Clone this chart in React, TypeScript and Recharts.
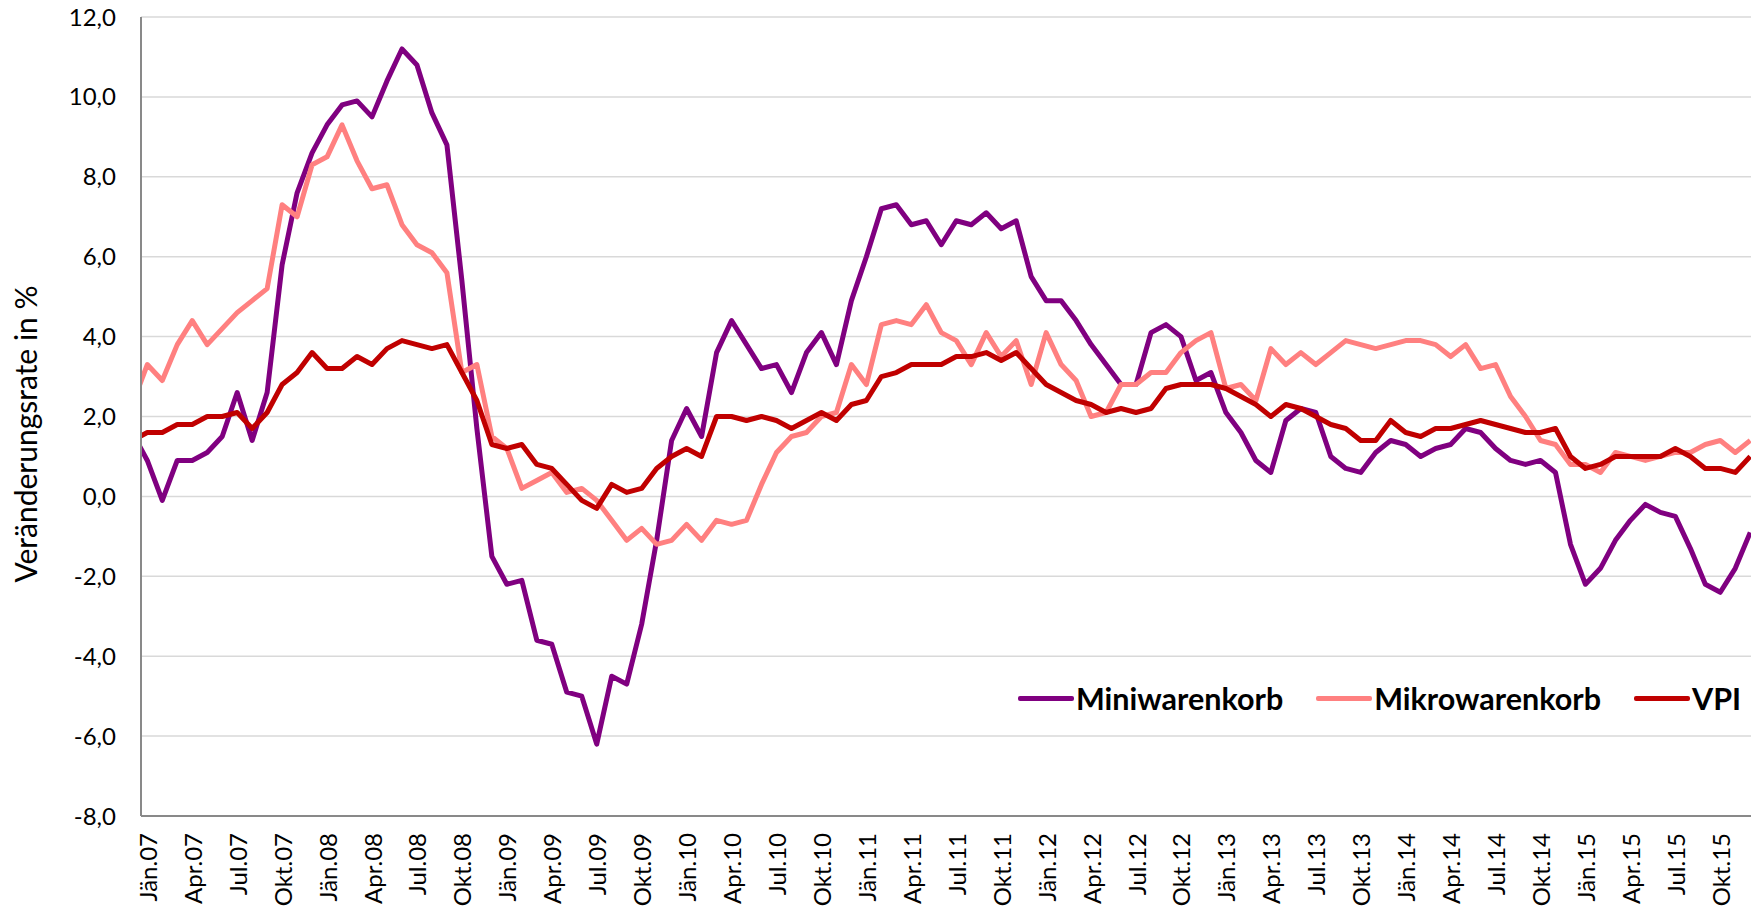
import React from "react";
import {
  LineChart,
  Line,
  XAxis,
  YAxis,
  CartesianGrid,
  Legend,
} from "recharts";

// first value of each series is Dez.06 (only the clipped stub left of the axis shows)
const miniwarenkorb = [
  1.6,
  0.9, -0.1, 0.9, 0.9, 1.1, 1.5, 2.6, 1.4, 2.6, 5.8, 7.6, 8.6,
  9.3, 9.8, 9.9, 9.5, 10.4, 11.2, 10.8, 9.6, 8.8, 5.4, 1.7, -1.5,
  -2.2, -2.1, -3.6, -3.7, -4.9, -5.0, -6.2, -4.5, -4.7, -3.2, -1.1, 1.4,
  2.2, 1.5, 3.6, 4.4, 3.8, 3.2, 3.3, 2.6, 3.6, 4.1, 3.3, 4.9,
  6.0, 7.2, 7.3, 6.8, 6.9, 6.3, 6.9, 6.8, 7.1, 6.7, 6.9, 5.5,
  4.9, 4.9, 4.4, 3.8, 3.3, 2.8, 2.8, 4.1, 4.3, 4.0, 2.9, 3.1,
  2.1, 1.6, 0.9, 0.6, 1.9, 2.2, 2.1, 1.0, 0.7, 0.6, 1.1, 1.4,
  1.3, 1.0, 1.2, 1.3, 1.7, 1.6, 1.2, 0.9, 0.8, 0.9, 0.6, -1.2,
  -2.2, -1.8, -1.1, -0.6, -0.2, -0.4, -0.5, -1.3, -2.2, -2.4, -1.8, -0.9,
];

const mikrowarenkorb = [
  2.3,
  3.3, 2.9, 3.8, 4.4, 3.8, 4.2, 4.6, 4.9, 5.2, 7.3, 7.0, 8.3,
  8.5, 9.3, 8.4, 7.7, 7.8, 6.8, 6.3, 6.1, 5.6, 3.1, 3.3, 1.5,
  1.2, 0.2, 0.4, 0.6, 0.1, 0.2, -0.1, -0.6, -1.1, -0.8, -1.2, -1.1,
  -0.7, -1.1, -0.6, -0.7, -0.6, 0.3, 1.1, 1.5, 1.6, 2.0, 2.1, 3.3,
  2.8, 4.3, 4.4, 4.3, 4.8, 4.1, 3.9, 3.3, 4.1, 3.5, 3.9, 2.8,
  4.1, 3.3, 2.9, 2.0, 2.1, 2.8, 2.8, 3.1, 3.1, 3.6, 3.9, 4.1,
  2.7, 2.8, 2.4, 3.7, 3.3, 3.6, 3.3, 3.6, 3.9, 3.8, 3.7, 3.8,
  3.9, 3.9, 3.8, 3.5, 3.8, 3.2, 3.3, 2.5, 2.0, 1.4, 1.3, 0.8,
  0.8, 0.6, 1.1, 1.0, 0.9, 1.0, 1.1, 1.1, 1.3, 1.4, 1.1, 1.4,
];

const vpi = [
  1.4,
  1.6, 1.6, 1.8, 1.8, 2.0, 2.0, 2.1, 1.7, 2.1, 2.8, 3.1, 3.6,
  3.2, 3.2, 3.5, 3.3, 3.7, 3.9, 3.8, 3.7, 3.8, 3.1, 2.4, 1.3,
  1.2, 1.3, 0.8, 0.7, 0.3, -0.1, -0.3, 0.3, 0.1, 0.2, 0.7, 1.0,
  1.2, 1.0, 2.0, 2.0, 1.9, 2.0, 1.9, 1.7, 1.9, 2.1, 1.9, 2.3,
  2.4, 3.0, 3.1, 3.3, 3.3, 3.3, 3.5, 3.5, 3.6, 3.4, 3.6, 3.2,
  2.8, 2.6, 2.4, 2.3, 2.1, 2.2, 2.1, 2.2, 2.7, 2.8, 2.8, 2.8,
  2.7, 2.5, 2.3, 2.0, 2.3, 2.2, 2.0, 1.8, 1.7, 1.4, 1.4, 1.9,
  1.6, 1.5, 1.7, 1.7, 1.8, 1.9, 1.8, 1.7, 1.6, 1.6, 1.7, 1.0,
  0.7, 0.8, 1.0, 1.0, 1.0, 1.0, 1.2, 1.0, 0.7, 0.7, 0.6, 1.0,
];

// one label every three months, starting at Jän.07
const tickLabels = [
  "Jän.07", "Apr.07", "Jul.07", "Okt.07",
  "Jän.08", "Apr.08", "Jul.08", "Okt.08",
  "Jän.09", "Apr.09", "Jul.09", "Okt.09",
  "Jän.10", "Apr.10", "Jul.10", "Okt.10",
  "Jän.11", "Apr.11", "Jul.11", "Okt.11",
  "Jän.12", "Apr.12", "Jul.12", "Okt.12",
  "Jän.13", "Apr.13", "Jul.13", "Okt.13",
  "Jän.14", "Apr.14", "Jul.14", "Okt.14",
  "Jän.15", "Apr.15", "Jul.15", "Okt.15",
];

const seriesNames = ["Miniwarenkorb", "Mikrowarenkorb", "VPI"];

const yTicks = [-8, -6, -4, -2, 0, 2, 4, 6, 8, 10, 12];

const FONT = "Lato, 'Open Sans', sans-serif";

const rows = miniwarenkorb.map((v, k) => ({
  idx: k - 1,
  mini: v,
  mikro: mikrowarenkorb[k],
  vpi: vpi[k],
}));

const xTicks = tickLabels.map((_, j) => j * 3);

function MonthTick(props: any) {
  const { x, y, payload } = props;
  const label = tickLabels[Math.round(payload.value / 3)];
  return (
    <text
      x={x}
      y={y}
      transform={`rotate(-90, ${x}, ${y})`}
      textAnchor="end"
      dominantBaseline="central"
      fontSize={24}
      fontFamily={FONT}
      fill="#000"
    >
      {label}
    </text>
  );
}

function YTitle() {
  return (
    <text
      x={25}
      y={434}
      transform="rotate(-90, 25, 434)"
      textAnchor="middle"
      dominantBaseline="central"
      fontSize={30}
      fontFamily={FONT}
      fill="#000"
    >
      Veränderungsrate in %
    </text>
  );
}

function LegendBox(props: any) {
  const items = [...(props.payload || [])].sort(
    (a: any, b: any) => seriesNames.indexOf(a.value) - seriesNames.indexOf(b.value)
  );
  return (
    <div style={{ display: "flex", alignItems: "center", whiteSpace: "nowrap" }}>
      {items.map((e: any) => (
        <div
          key={e.value}
          style={{ display: "flex", alignItems: "center", marginRight: 33 }}
        >
          <span
            style={{
              display: "inline-block",
              width: 56,
              height: 5,
              borderRadius: 2,
              background: e.color,
            }}
          />
          <span
            style={{
              marginLeft: 2,
              fontFamily: FONT,
              fontWeight: 700,
              fontSize: 30.5,
              lineHeight: "34px",
              color: "#000",
            }}
          >
            {e.value}
          </span>
        </div>
      ))}
    </div>
  );
}

export default function App(): React.ReactElement {
  return (
    <div
      style={{
        position: "absolute",
        left: 0,
        top: 0,
        width: 1751,
        height: 908,
        background: "#fff",
        overflow: "hidden",
      }}
    >
      <LineChart
        width={1751}
        height={908}
        data={rows}
        margin={{ top: 17, right: 0, bottom: 0, left: 0 }}
      >
        <CartesianGrid vertical={false} stroke="#d9d9d9" strokeWidth={1.5} />
        <XAxis
          dataKey="idx"
          type="number"
          domain={[-0.42, 107.05]}
          allowDataOverflow
          ticks={xTicks}
          interval={0}
          height={92}
          tickSize={0}
          tickMargin={17}
          tickLine={false}
          axisLine={{ stroke: "#898989", strokeWidth: 2 }}
          tick={<MonthTick />}
        />
        <YAxis
          width={141}
          domain={[-8, 12]}
          ticks={yTicks}
          interval={0}
          allowDataOverflow
          tickSize={0}
          tickMargin={25}
          tickLine={false}
          axisLine={{ stroke: "#898989", strokeWidth: 2 }}
          tickFormatter={(v: number) => v.toFixed(1).replace(".", ",")}
          tick={{ fontSize: 24, fontFamily: FONT, fill: "#000" }}
          label={<YTitle />}
        />
        <Legend
          verticalAlign="middle"
          align="center"
          layout="horizontal"
          content={<LegendBox />}
          wrapperStyle={{ left: 1018, top: 681, width: 733 }}
        />
        <Line
          dataKey="mini"
          name="Miniwarenkorb"
          stroke="#800080"
          strokeWidth={5}
          strokeLinejoin="round"
          dot={false}
          isAnimationActive={false}
        />
        <Line
          dataKey="mikro"
          name="Mikrowarenkorb"
          stroke="#ff8080"
          strokeWidth={5}
          strokeLinejoin="round"
          dot={false}
          isAnimationActive={false}
        />
        <Line
          dataKey="vpi"
          name="VPI"
          stroke="#c00000"
          strokeWidth={5}
          strokeLinejoin="round"
          dot={false}
          isAnimationActive={false}
        />
      </LineChart>
    </div>
  );
}
